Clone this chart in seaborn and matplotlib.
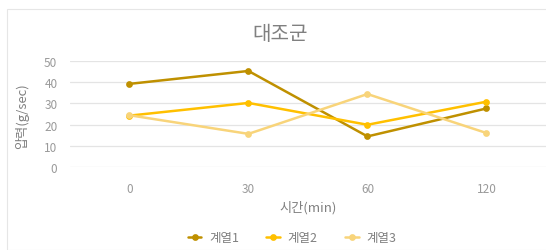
import numpy as np
import pandas as pd
import matplotlib
matplotlib.use('Agg')
import matplotlib.pyplot as plt
import seaborn as sns
from matplotlib.patches import Rectangle

# 데이터
times = ['0', '30', '60', '120']
series_names = ['계열1', '계열2', '계열3']
s1 = [39.2, 45.3, 14.4, 27.6]
s2 = [24.2, 30.2, 19.9, 30.8]
s3 = [24.4, 15.6, 34.4, 16.0]
colors = ['#BF9000', '#FFC000', '#F8D47A']

df = pd.DataFrame({
    'time': times * 3,
    'value': s1 + s2 + s3,
    'series': [n for n in series_names for _ in times],
})

sns.set_theme(style='white')
plt.rcParams['font.family'] = ['Noto Sans CJK KR', 'DejaVu Sans']
plt.rcParams['font.weight'] = 'light'

fig = plt.figure(figsize=(5.46, 2.51), dpi=100)
ax = fig.add_axes([0.128, 0.331, 0.872, 0.422])

sns.pointplot(data=df, x='time', y='value', hue='series', order=times,
              hue_order=series_names, palette=colors, markers='o',
              markersize=3.5, linewidth=1.8, dodge=False, ax=ax)

ax.set_xlim(-0.5, 3.5)
ax.set_ylim(0, 50)
ax.set_yticks(np.arange(0, 51, 10))
ax.yaxis.grid(True, color='#e4e4e4', linewidth=0.9)
ax.set_axisbelow(True)
for sp in ax.spines.values():
    sp.set_visible(False)
ax.tick_params(axis='both', length=0, labelsize=8.5, colors='#9a9a9a')
ax.tick_params(axis='y', pad=9)
ax.tick_params(axis='x', pad=11)

ax.set_xlabel('시간(min)', fontsize=9.5, color='#808080')
ax.set_ylabel('압력(g/sec)', fontsize=9.5, color='#808080')
ax.xaxis.set_label_coords(0.5, -0.31)
ax.yaxis.set_label_coords(-0.085, 0.49)

fig.text(0.513, 0.862, '대조군', ha='center', va='center', fontsize=14.5, color='#808080')

handles, labels = ax.get_legend_handles_labels()
ax.legend_.remove()
fig.legend(handles, labels, loc='center', bbox_to_anchor=(0.535, 0.05), ncol=3,
           frameon=False, fontsize=9, labelcolor='#808080', handlelength=1.1,
           columnspacing=2.2, handletextpad=0.6)

fig.patches.append(Rectangle((0.012, 0.0), 0.99, 0.962, transform=fig.transFigure,
                             fill=False, edgecolor='#e6e6e6', linewidth=0.8))

fig.savefig('out.png', dpi=100)
